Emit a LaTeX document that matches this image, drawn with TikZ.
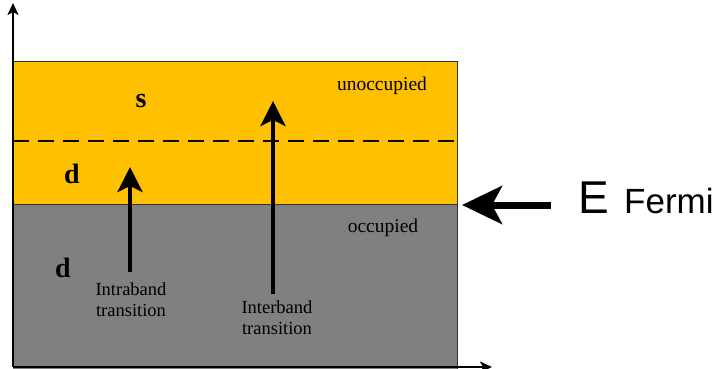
\documentclass[tikz,border=0pt]{standalone}
\usepackage{fontspec}
\setmainfont{Liberation Serif}
\newfontfamily\arialfont{Liberation Sans}
\usetikzlibrary{arrows.meta}
\definecolor{bandyellow}{HTML}{FFC000}
\definecolor{bandgray}{HTML}{808080}
\tikzset{
  bandlabel/.style={font=\fontsize{28}{30}\selectfont\bfseries, inner sep=0pt},
  smalltext/.style={font=\fontsize{18.5}{21}\selectfont, inner sep=0pt, align=center},
  bigtext/.style={font=\fontsize{19.5}{21}\selectfont, inner sep=0pt},
  transarrow/.style={line width=4pt, -{Stealth[length=25pt,width=25pt,inset=6pt]}},
  axis/.style={line width=2pt, -{Stealth[length=12pt,width=11pt,inset=3pt]}},
}
\begin{document}
\begin{tikzpicture}[x=1pt,y=-1pt]
\useasboundingbox (0,0) rectangle (722,368);
% bands
\fill[bandyellow] (13,61) rectangle (457,204);
\fill[bandgray] (13,204) rectangle (457,370);
\draw[line width=0.8pt, draw=black!80] (13,61) -- (457,61) -- (457,370);
\draw[line width=0.8pt, draw=black!80] (13,204) -- (457,204);
\draw[line width=2.4pt, dash pattern=on 16pt off 9pt] (13,141) -- (457,141);
% axes
\coordinate (o) at (13,367);
\coordinate (ytip) at (13,3);
\coordinate (xtip) at (492,367);
\draw[axis] (o) -- (ytip);
\draw[axis] (o) -- (xtip);
% labels
\node[bandlabel] (s) at (141,101) {s};
\node[bandlabel] (d1) at (72,174) {d};
\node[bandlabel] (d2) at (63,268) {d};
\node[bigtext] (unocc) at (382,86) {unoccupied};
\node[bigtext] (occ) at (383,228) {occupied};
\node[smalltext] (intra) at (131,300) {Intraband\\transition};
\node[smalltext] (inter) at (277,318) {Interband\\transition};
% transitions
\coordinate (intratip) at (130,167);
\coordinate (intertip) at (273,101);
\draw[transarrow] (intra.north -| intratip) ++(0,-11) -- (intratip);
\draw[transarrow] (inter.north -| intertip) ++(0,-7) -- (intertip);
% Fermi
\node[font=\arialfont\fontsize{46}{46}\selectfont, inner sep=0pt, anchor=base west] (E) at (578,213) {E};
\node[font=\arialfont\fontsize{35}{35}\selectfont, inner sep=0pt, anchor=base west] (fermi) at (624,213) {Fermi};
\coordinate (ftip) at (462,205);
\draw[line width=7pt, -{Stealth[length=40pt,width=38pt,inset=10pt]}] (551,205) -- (ftip);
\end{tikzpicture}
\end{document}
